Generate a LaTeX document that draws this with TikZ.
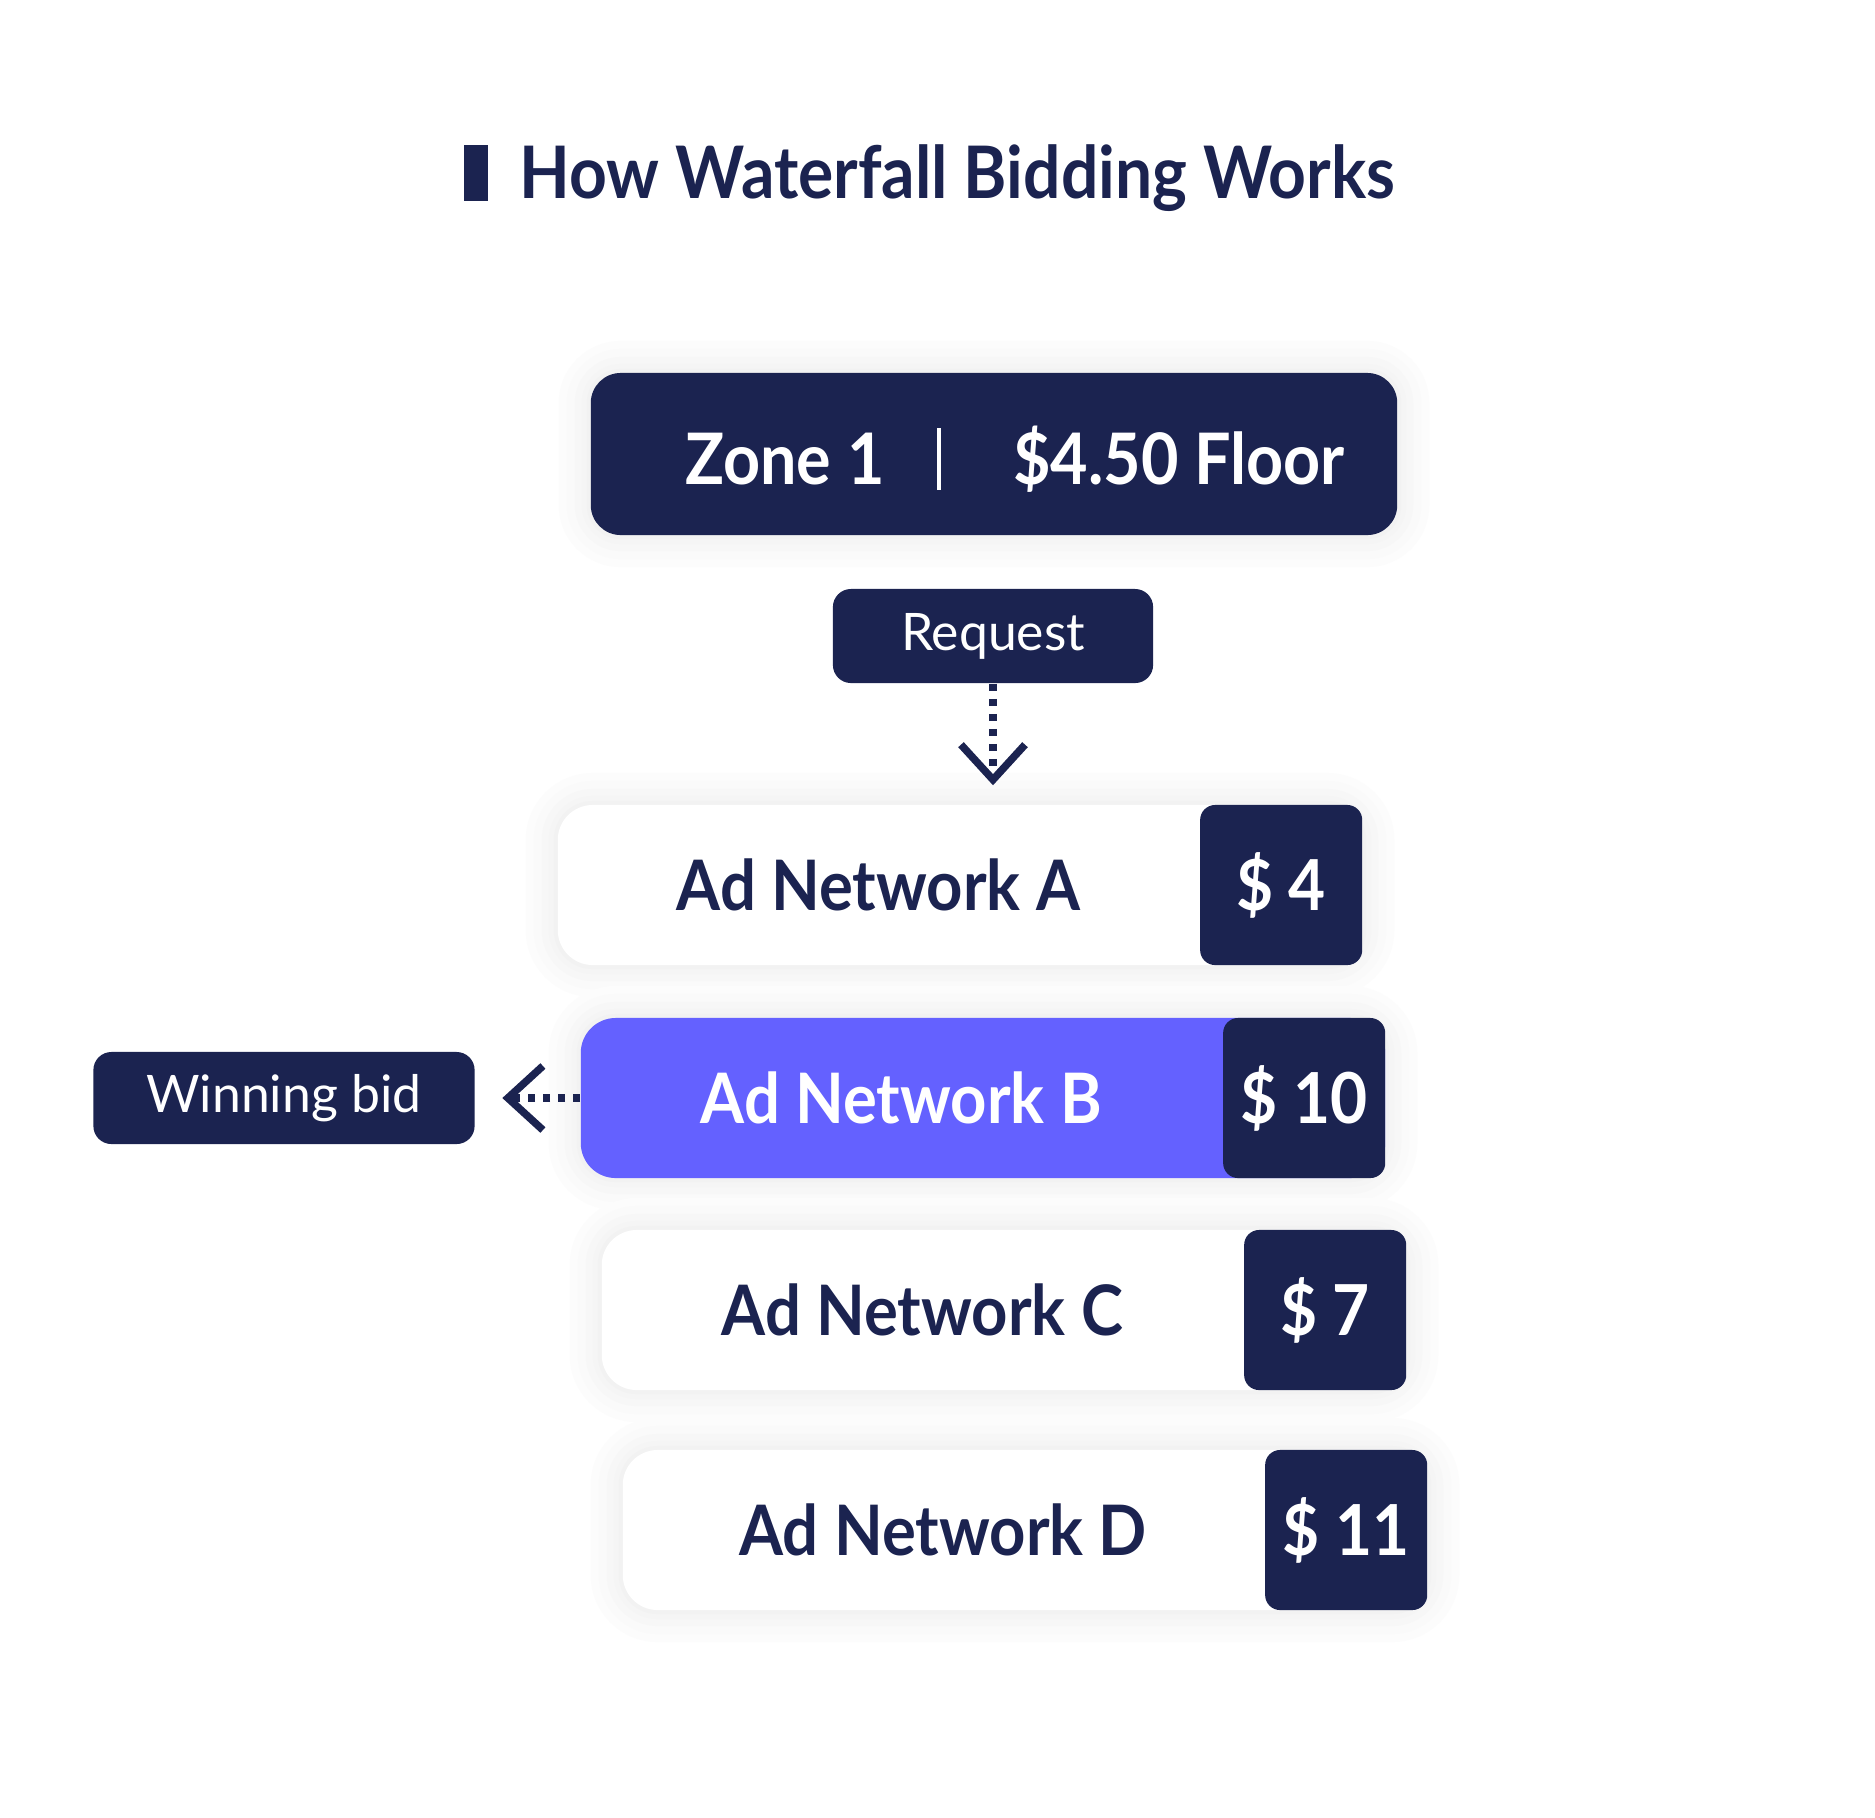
\documentclass[tikz,border=0pt]{standalone}
\usepackage{fontspec}
\setmainfont{Lato}
\newfontfamily\headfont{Lato}[FakeStretch=0.91]
\usetikzlibrary{positioning,calc,arrows.meta}

\definecolor{navy}{HTML}{1B2350}
\definecolor{bidpurple}{HTML}{6461FF}

\tikzset{
	softshadow/.style={preaction={draw=black!1, line width=0.64cm},
		preaction={draw=black!2, line width=0.48cm},
		preaction={draw=black!3, line width=0.32cm},
		preaction={draw=black!4, line width=0.18cm},
		preaction={draw=black!5, line width=0.08cm}},
	netbox/.style={fill=white, rounded corners=0.35cm, minimum width=8.04cm, minimum height=1.6cm, inner sep=0pt, softshadow},
	pricebox/.style={fill=navy, rounded corners=0.15cm, minimum width=1.62cm, minimum height=1.6cm, inner sep=0pt, text=white, font=\headfont\bfseries\fontsize{20}{24}\selectfont},
	nettext/.style={text=navy, font=\headfont\bfseries\fontsize{19.8}{24}\selectfont},
	tagbox/.style={fill=navy, rounded corners=0.18cm, text=white, inner sep=0pt, font=\fontsize{14.7}{18}\selectfont},
	dotline/.style={navy, line width=0.075cm, dash pattern=on 0.07cm off 0.08cm, -{Straight Barb[length=0.35cm, width=0.64cm, line width=0.075cm]}}
}

\begin{document}
\begin{tikzpicture}[x=0.01cm, y=-0.01cm]
	\fill[white] (0,0) rectangle (1875,1817);
	\useasboundingbox (0,0) rectangle (1875,1817);
	
	% title
	\node[fill=navy, minimum width=0.24cm, minimum height=0.56cm, inner sep=0pt] (titlebar) at (476,173) {};
	\node[anchor=base west, inner sep=0pt, text=navy, font=\headfont\bfseries\fontsize{20.6}{24}\selectfont] (title) at (519,198) {How Waterfall Bidding Works};
	
	% zone
	\node[fill=navy, rounded corners=0.3cm, minimum width=8.06cm, minimum height=1.62cm, inner sep=0pt, softshadow] (zone) at (994,454) {};
	\node[anchor=base, inner sep=0pt, text=white, font=\headfont\bfseries\fontsize{20.2}{24}\selectfont] (zonename) at (785,484) {Zone 1};
	\node[anchor=base, inner sep=0pt, text=white, font=\headfont\bfseries\fontsize{20.2}{24}\selectfont] (zonefloor) at (1179,484) {\$4.50 Floor};
	\draw[white, line width=0.035cm] (939,428) -- (939,490);
	
	\node[tagbox, minimum width=3.2cm, minimum height=0.94cm] (request) at (993,636) {Request};
	
	% networks
	\node[netbox] (netA) at (960,885) {};
	\node[pricebox, anchor=east] (priceA) at (netA.east) {\$ 4};
	\node[nettext] (nameA) at ($(netA.west)!0.5!(priceA.west)$) {Ad Network A};
	
	\node[netbox, fill=bidpurple] (netB) at (983,1098) {};
	\node[pricebox, anchor=east] (priceB) at (netB.east) {\$ 10};
	\node[nettext, text=white] (nameB) at ($(netB.west)!0.5!(priceB.west)$) {Ad Network B};
	
	\node[netbox] (netC) at (1004,1310) {};
	\node[pricebox, anchor=east] (priceC) at (netC.east) {\$ 7};
	\node[nettext] (nameC) at ($(netC.west)!0.5!(priceC.west)$) {Ad Network C};
	
	\node[netbox] (netD) at (1025,1530) {};
	\node[pricebox, anchor=east] (priceD) at (netD.east) {\$ 11};
	\node[nettext] (nameD) at ($(netD.west)!0.5!(priceD.west)$) {Ad Network D};
	
	\node[tagbox, minimum width=3.81cm, minimum height=0.92cm] (winning) at (284,1098) {Winning bid};
	
	\draw[dotline, shorten >=0.19cm] (request.south) -- (request.south |- netA.north);
	\draw[dotline, shorten >=0.27cm] (netB.west) -- (winning.east);
	
\end{tikzpicture}
\end{document}
